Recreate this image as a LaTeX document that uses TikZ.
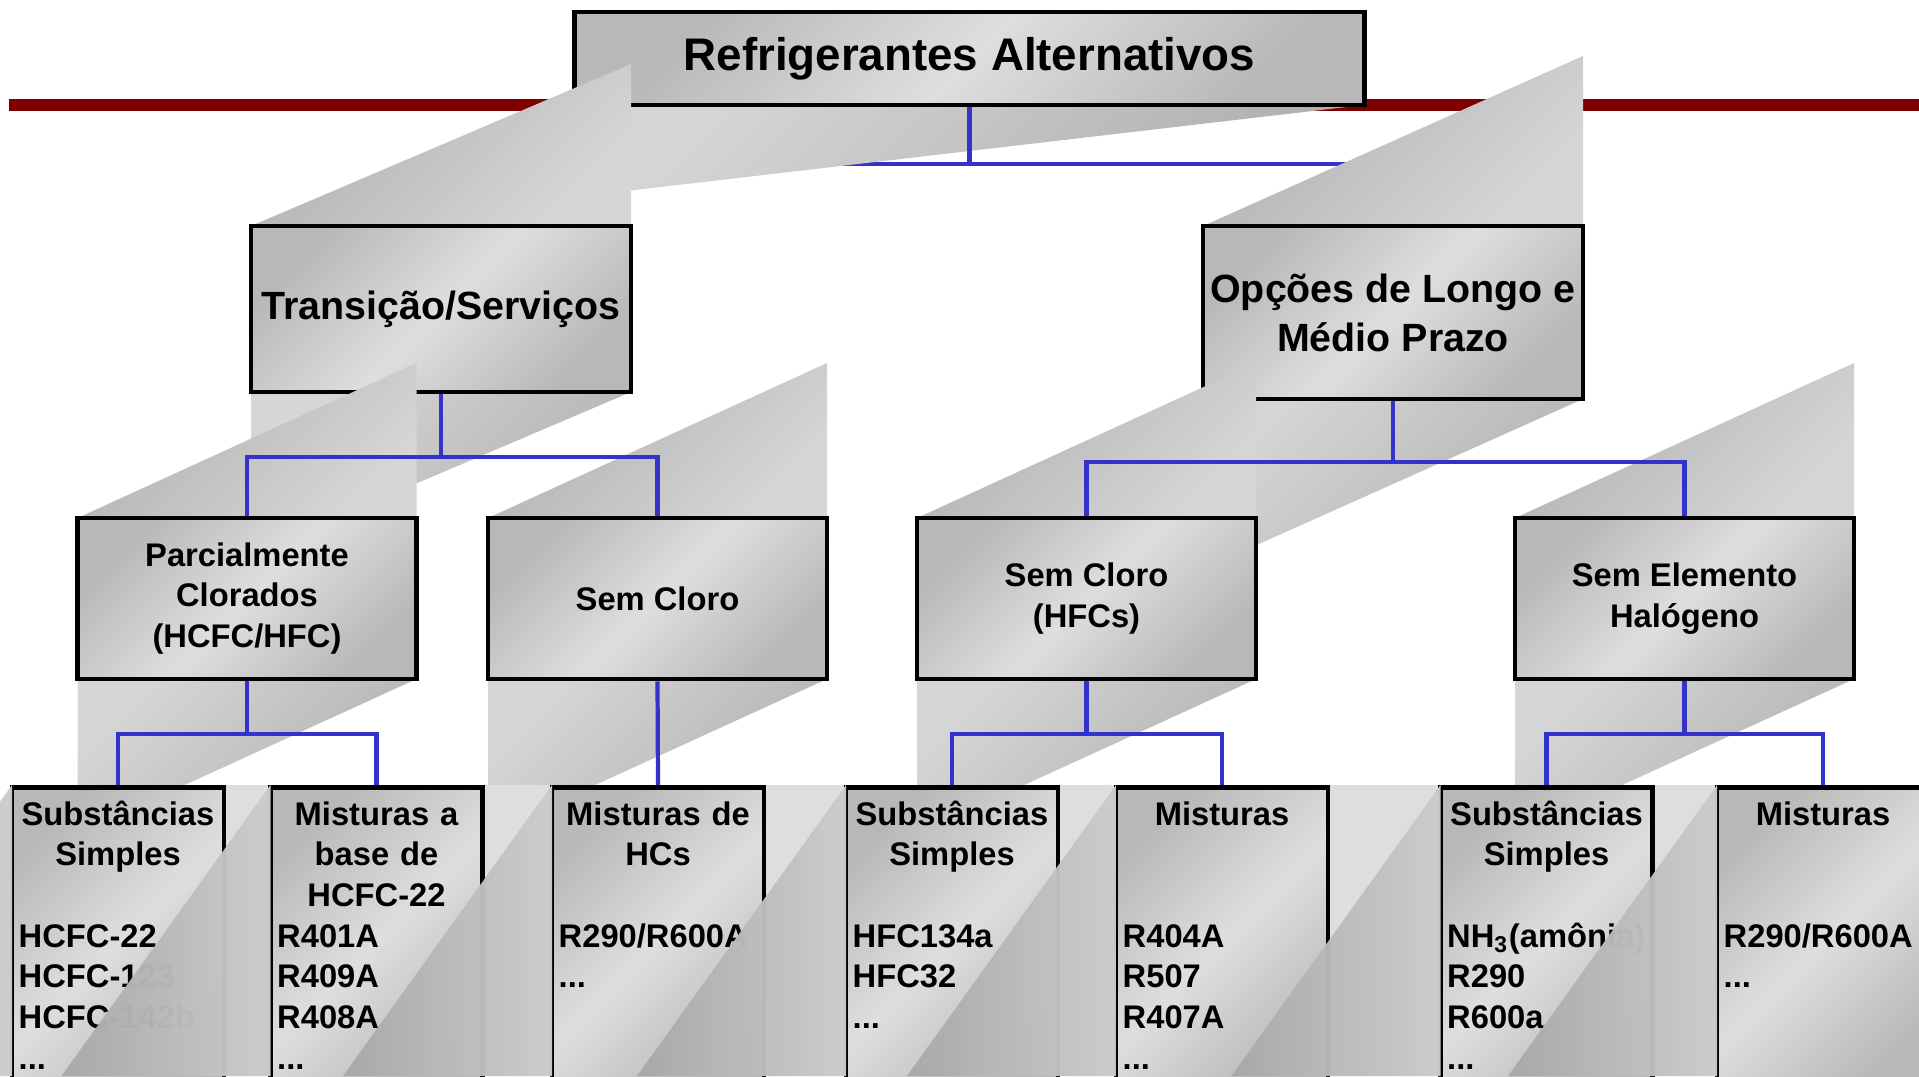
\documentclass[tikz,border=0pt]{standalone}
\usepackage{fontspec}
\setmainfont{Liberation Sans}
\usetikzlibrary{backgrounds}

\definecolor{barred}{RGB}{128,0,0}
\definecolor{linkblue}{RGB}{51,51,204}
\definecolor{boxdark}{RGB}{184,184,184}
\definecolor{boxlight}{RGB}{222,222,222}
\definecolor{shadedark}{RGB}{176,176,176}
\definecolor{shadelight}{RGB}{214,214,214}
\definecolor{bandgray}{RGB}{222,222,222}
\definecolor{cutdark}{RGB}{168,168,168}
\definecolor{cutlight}{RGB}{204,204,204}

\tikzset{
  box/.style={draw, line width=1.3pt, top color=boxdark, bottom color=boxdark, middle color=boxlight, shading angle=45, inner sep=0pt, align=center},
  lvltop/.style={box, minimum width=7.89cm, minimum height=0.93cm, font=\fontsize{13}{16}\selectfont\bfseries},
  lvlone/.style={box, minimum width=3.8cm, font=\fontsize{11.2}{13.9}\selectfont\bfseries},
  lvltwo/.style={box, minimum width=3.39cm, minimum height=1.61cm, font=\fontsize{9.3}{11.5}\selectfont\bfseries},
  lvlthree/.style={box, minimum width=2.12cm, minimum height=3.1cm, anchor=north},
  lowtxt/.style={inner sep=0pt, font=\fontsize{9.3}{11.6}\selectfont\bfseries},
  link/.style={draw=linkblue, line width=1.2pt},
  upshade/.style={top color=shadedark, bottom color=shadelight, shading angle=45},
  downshade/.style={top color=shadelight, bottom color=shadedark, shading angle=45},
  cutshade/.style={left color=cutdark, right color=cutlight, opacity=0.97}
}

\begin{document}
\begin{tikzpicture}[x=0.01cm,y=-0.01cm]
\useasboundingbox (0,0) rectangle (1919,1076);
\clip (0,0) rectangle (1919,1076);
\draw[barred, line width=0.114cm] (9,105) -- (1919,105);

% top
\shade[downshade] (575,105) -- (1364,105) -- (575,197) -- cycle;
\node[lvltop] (top) at (969.5,58.5) {Refrigerantes Alternativos};
\coordinate (topfork) at (969.5,164);
\draw[link] (top.south) -- (topfork);

% level 1
\foreach \xa/\xb/\ya/\yb/\h in {251/631/226/392/162, 1203/1583/226/399/170} {
  \shade[upshade] (\xa,\ya) -- (\xb,\ya) -- (\xb,\ya-\h) -- cycle;
  \shade[downshade] (\xa,\yb) -- (\xb,\yb) -- (\xa,\yb+\h) -- cycle;
}
\node[lvlone, minimum height=1.66cm] (trans) at (441,309) {Transição/Serviços};
\node[lvlone, minimum height=1.73cm] (opcoes) at (1393,312.5) {Opções de Longo e\\Médio Prazo};
\begin{pgfonlayer}{background}
\draw[link] (trans.north) |- (topfork) -| (opcoes.north);
\end{pgfonlayer}

% level 2
\foreach \cx in {247,657.5,1086.5,1684.5} {
  \shade[upshade] (\cx-169.5,518) -- (\cx+169.5,518) -- (\cx+169.5,363) -- cycle;
  \shade[downshade] (\cx-169.5,679) -- (\cx+169.5,679) -- (\cx-169.5,834) -- cycle;
}
\node[lvltwo] (parc) at (247,598.5) {Parcialmente\\Clorados\\(HCFC/HFC)};
\node[lvltwo] (semcl) at (657.5,598.5) {Sem Cloro};
\node[lvltwo] (hfc) at (1086.5,598.5) {Sem Cloro\\(HFCs)};
\node[lvltwo] (semel) at (1684.5,598.5) {Sem Elemento\\Halógeno};
\draw[link] (trans.south) -- ++(0,63) -| (parc.north);
\draw[link] (trans.south) -- ++(0,63) -| (semcl.north);
\draw[link] (opcoes.south) -- ++(0,61) -| (hfc.north);
\draw[link] (opcoes.south) -- ++(0,61) -| (semel.north);

% level 3
\fill[bandgray] (12,785) rectangle (1919,1076);
\foreach \nm/\cx/\head/\items in {
  ss1/118/{Substâncias\\Simples}/{HCFC-22\\HCFC-123\\HCFC-142b\\...},
  mix1/376.5/{Misturas a\\base de\\HCFC-22}/{R401A\\R409A\\R408A\\...},
  mixhc/658/{Misturas de\\HCs}/{R290/R600A\\...},
  ss2/952/{Substâncias\\Simples}/{HFC134a\\HFC32\\...},
  mix2/1222/{Misturas}/{R404A\\R507\\R407A\\...},
  ss3/1546.5/{Substâncias\\Simples}/{NH\textsubscript{3}(amônia)\\R290\\R600a\\...},
  mix3/1823/{Misturas}/{R290/R600A\\...}} {
  \node[lvlthree] (\nm) at (\cx,785) {};
  \node[lowtxt, text width=2.12cm, align=center, anchor=base] (\nm head) at (\cx,825) {\head};
  \node[lowtxt, text width=2.4cm, align=left, anchor=base west] (\nm items) at (\cx-100,947) {\items};
}
\draw[link] (parc.south) -- ++(0,53) -| (ss1.north);
\draw[link] (parc.south) -- ++(0,53) -| (mix1.north);
\draw[link] (semcl.south) -- (mixhc.north);
\draw[link] (hfc.south) -- ++(0,53) -| (ss2.north);
\draw[link] (hfc.south) -- ++(0,53) -| (mix2.north);
\draw[link] (semel.south) -- ++(0,53) -| (ss3.north);
\draw[link] (semel.south) -- ++(0,53) -| (mix3.north);
\foreach \xa in {12,270.5,552,846,1116,1440.5,1717}
  \shade[cutshade] (\xa,785) -- (\xa,1076) -- (\xa-209,1076) -- cycle;
\end{tikzpicture}
\end{document}
